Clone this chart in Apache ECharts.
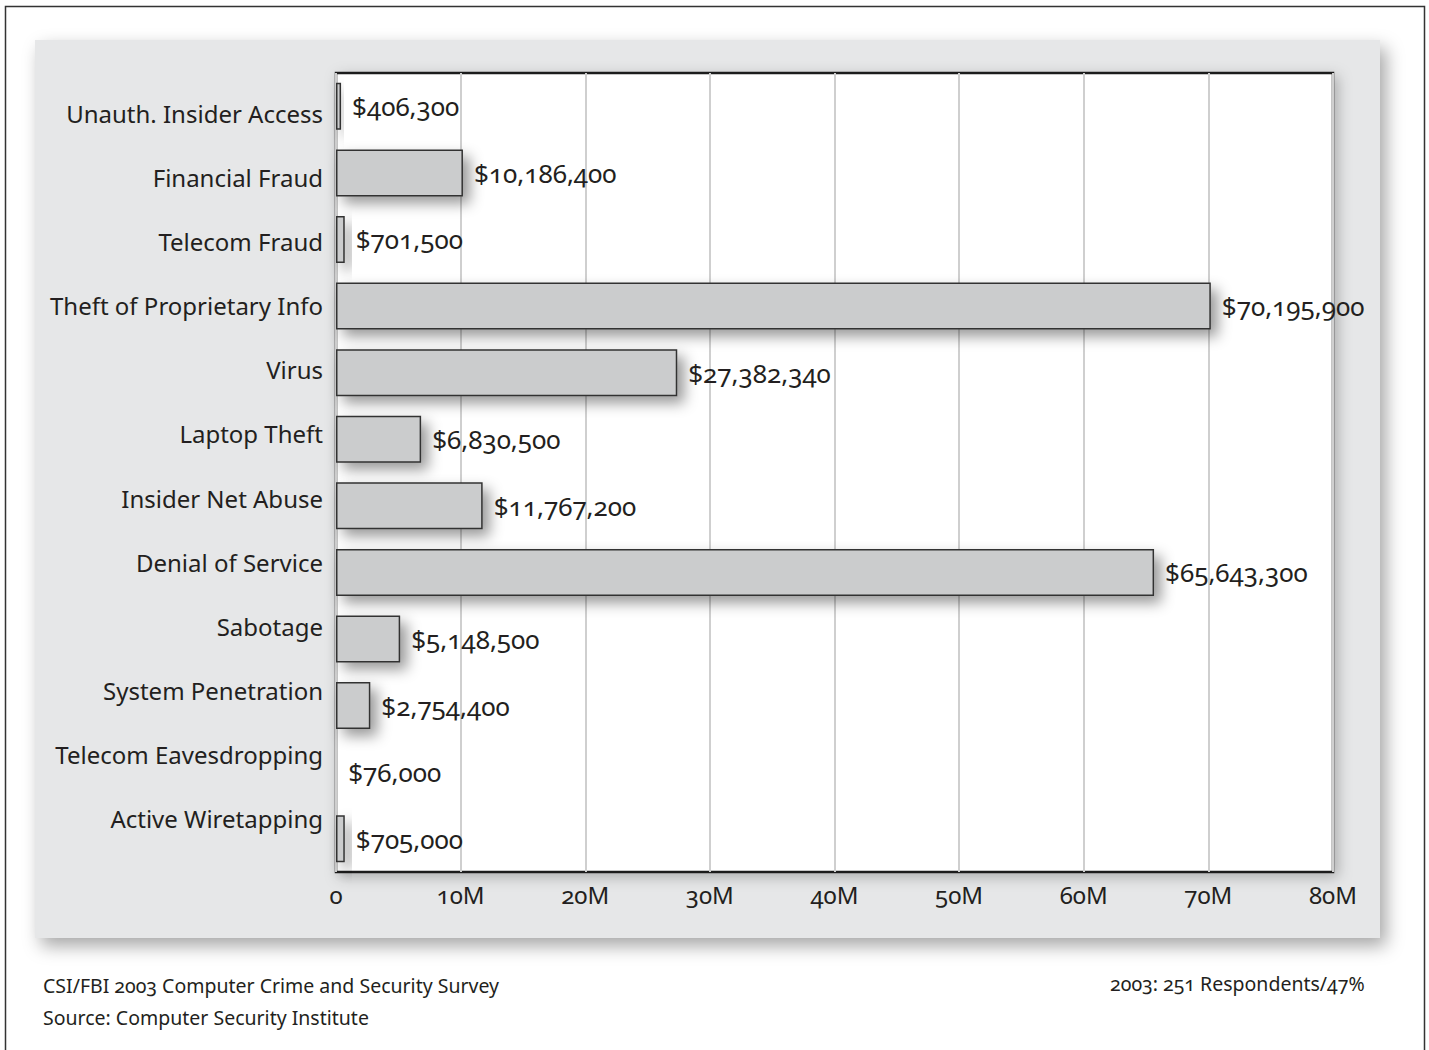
<!DOCTYPE html>
<html>
<head>
<meta charset="utf-8">
<script src="https://cdn.jsdelivr.net/npm/echarts@6/dist/echarts.min.js"></script>
<style>
  html, body { margin: 0; padding: 0; background: #fff; }
  #chart { width: 1429px; height: 1050px; font-variant-numeric: oldstyle-nums; }
</style>
</head>
<body>
<div id="chart"></div>
<script>
// categories, top to bottom
var categories = [
  'Unauth. Insider Access', 'Financial Fraud', 'Telecom Fraud', 'Theft of Proprietary Info',
  'Virus', 'Laptop Theft', 'Insider Net Abuse', 'Denial of Service', 'Sabotage',
  'System Penetration', 'Telecom Eavesdropping', 'Active Wiretapping'
];
var losses = [
  406300, 10186400, 701500, 70195900, 27382340, 6830500,
  11767200, 65643300, 5148500, 2754400, 76000, 705000
];
var footLeft = ['CSI/FBI 2003 Computer Crime and Security Survey', 'Source: Computer Security Institute'];
var footRight = '2003: 251 Respondents/47%';

var FONT = '"Noto Sans", "Open Sans", sans-serif';
var TXT = '#231f20';

var myChart = echarts.init(document.getElementById('chart'), null, { renderer: 'svg' });

var option = {
  backgroundColor: '#fff',
  animation: false,
  textStyle: { fontFamily: FONT },
  graphic: [
    {
      type: 'rect', z: -20, silent: true,
      shape: { x: 5.5, y: 6.5, width: 1419, height: 1060 },
      style: { fill: '#fff', stroke: '#333', lineWidth: 1.5 }
    },
    {
      type: 'rect', z: -10, silent: true,
      shape: { x: 35, y: 40, width: 1345, height: 898 },
      style: {
        fill: '#e6e7e8',
        shadowBlur: 18, shadowOffsetX: 6, shadowOffsetY: 8,
        shadowColor: 'rgba(0,0,0,0.35)'
      }
    },
    {
      type: 'text', left: 43, top: 975,
      style: { text: footLeft[0], fontSize: 19.5, fontFamily: FONT, fill: TXT }
    },
    {
      type: 'text', left: 43, top: 1007,
      style: { text: footLeft[1], fontSize: 19.5, fontFamily: FONT, fill: TXT }
    },
    {
      type: 'text', right: 60, top: 973,
      style: { text: footRight, fontSize: 19.5, fontFamily: FONT, fill: TXT }
    }
  ],
  grid: [
    {
      left: 336, top: 73, width: 997, height: 799,
      show: true, backgroundColor: '#fff',
      borderColor: '#1a1a1a', borderWidth: 2.5,
      shadowBlur: 14, shadowColor: 'rgba(0,0,0,0.25)', shadowOffsetX: 4, shadowOffsetY: 4
    },
    // labels only: the category names sit on a slightly tighter spacing than the bars
    { left: 336, top: 81, width: 997, height: 770 }
  ],
  xAxis: [
    {
      type: 'value', gridIndex: 0, min: 0, max: 80000000, interval: 10000000,
      axisLine: { show: false },
      axisTick: { show: false },
      axisLabel: {
        color: TXT, fontSize: 24, margin: 10,
        formatter: function (v) { return v === 0 ? '0' : (v / 1000000) + 'M'; }
      },
      splitLine: { show: true, lineStyle: { color: '#cfcfcf', width: 2 } }
    },
    { type: 'value', gridIndex: 1, show: false, min: 0, max: 80000000 }
  ],
  yAxis: [
    {
      type: 'category', gridIndex: 0, data: categories, inverse: true,
      axisLine: { show: false }, axisTick: { show: false },
      axisLabel: { show: false }, splitLine: { show: false }
    },
    {
      type: 'category', gridIndex: 1, data: categories, inverse: true,
      axisLine: { show: false }, axisTick: { show: false },
      axisLabel: { color: TXT, fontSize: 24, margin: 13 },
      splitLine: { show: false }
    }
  ],
  series: [
    {
      type: 'bar', xAxisIndex: 0, yAxisIndex: 0,
      data: losses,
      barWidth: 47,
      itemStyle: {
        color: '#cbcccd', borderColor: '#333', borderWidth: 1.5,
        shadowBlur: 14, shadowOffsetX: 7, shadowOffsetY: 7,
        shadowColor: 'rgba(0,0,0,0.4)'
      },
      label: {
        show: true, position: 'right', distance: 11,
        color: TXT, fontSize: 26,
        formatter: function (p) { return '$' + p.value.toLocaleString('en-US'); }
      }
    }
  ]
};

myChart.setOption(option);
</script>
</body>
</html>
